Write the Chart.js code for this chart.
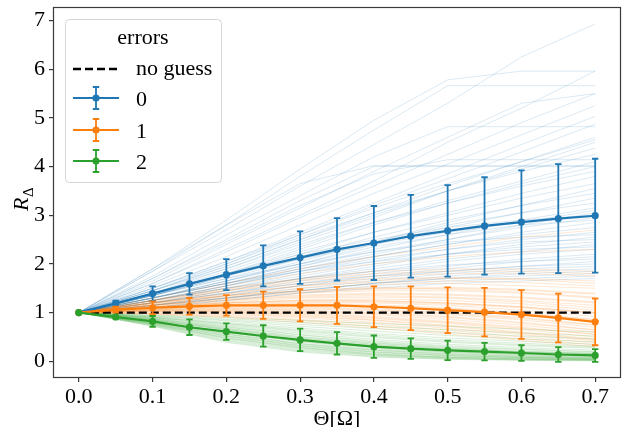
<!DOCTYPE html>
<html>
<head>
<meta charset="utf-8">
<script src="https://cdn.jsdelivr.net/npm/chart.js@4.4.1/dist/chart.umd.min.js"></script>
<style>
  html, body { margin: 0; padding: 0; background: #fff; }
  #wrap { width: 625px; height: 427px; }
</style>
</head>
<body>
<div id="wrap"><canvas id="c" width="625" height="427"></canvas></div>
<script>
// ---------------- DATA ----------------
const thetaMean = [0, 0.05, 0.1, 0.15, 0.2, 0.25, 0.3, 0.35, 0.4, 0.45, 0.5, 0.55, 0.6, 0.65, 0.7];
const thetaRun = [0, 0.1, 0.2, 0.3, 0.4, 0.5, 0.6, 0.7];
const xTicks = [0, 0.1, 0.2, 0.3, 0.4, 0.5, 0.6, 0.7];
const yTicks = [0, 1, 2, 3, 4, 5, 6, 7];
const seriesLabels = ["0", "1", "2"];
const legendTitle = "errors";
const noGuessLabel = "no guess";
const noGuessValue = [1, 1];
const noGuessTheta = [0, 0.7];

const blueMean = [1, 1.19, 1.39, 1.59, 1.78, 1.96, 2.13, 2.30, 2.43, 2.57, 2.68, 2.78, 2.86, 2.93, 2.99];
const blueStd  = [0, 0.055, 0.15, 0.22, 0.32, 0.42, 0.54, 0.64, 0.76, 0.85, 0.94, 1.0, 1.06, 1.12, 1.17];
const orangeMean = [1, 1.06, 1.10, 1.13, 1.15, 1.15, 1.15, 1.15, 1.12, 1.09, 1.05, 1.01, 0.96, 0.89, 0.81];
const orangeStd  = [0, 0.06, 0.13, 0.17, 0.21, 0.28, 0.33, 0.38, 0.42, 0.45, 0.47, 0.5, 0.5, 0.5, 0.48];
const greenMean = [1, 0.91, 0.82, 0.70, 0.61, 0.52, 0.44, 0.37, 0.30, 0.26, 0.225, 0.20, 0.17, 0.14, 0.12];
const greenStd  = [0, 0.03, 0.11, 0.16, 0.17, 0.22, 0.23, 0.23, 0.23, 0.21, 0.2, 0.18, 0.16, 0.15, 0.13];

const blueRuns = [
  [1,1.85,2.7,3.6,4.45,5.3,6.25,6.93],
  [1,1.9,2.9,3.95,4.95,5.78,5.96,5.96],
  [1,1.85,2.8,3.8,4.75,5.66,5.66,5.66],
  [1,1.6,2.3,3.0,3.7,4.5,5.2,5.96],
  [1,1.6,2.25,2.95,3.6,4.25,4.9,5.5],
  [1,1.55,2.15,2.8,3.45,4.05,4.65,5.25],
  [1,1.75,2.6,3.4,4.2,4.82,4.82,4.82],
  [1,1.5,2.05,2.65,3.25,3.85,4.45,5.03],
  [1,1.9,2.8,3.65,4.02,4.02,4.02,4.02],
  [1,1.45,2.0,2.6,3.2,3.75,4.3,4.87],
  [1,1.45,1.95,2.5,3.05,3.6,4.1,4.6],
  [1,1.5,2.05,2.6,3.15,3.65,4.1,4.55],
  [1,1.4,1.9,2.45,2.95,3.5,4.0,4.5],
  [1,1.45,1.95,2.5,3.0,3.5,3.95,4.38],
  [1,1.7,2.45,3.2,3.85,4.14,4.14,4.14],
  [1,1.4,1.85,2.35,2.85,3.3,3.7,4.1],
  [1,1.35,1.8,2.3,2.8,3.25,3.65,4.0],
  [1,1.35,1.75,2.2,2.65,3.05,3.45,3.8],
  [1,1.4,1.8,2.25,2.65,3.0,3.35,3.65],
  [1,1.3,1.65,2.05,2.45,2.85,3.2,3.55],
  [1,1.35,1.75,2.15,2.55,2.9,3.2,3.45],
  [1,1.3,1.65,2.0,2.4,2.75,3.05,3.35],
  [1,1.35,1.7,2.1,2.45,2.8,3.05,3.25],
  [1,1.3,1.6,1.95,2.3,2.6,2.9,3.15],
  [1,1.25,1.55,1.9,2.2,2.5,2.8,3.05],
  [1,1.3,1.6,1.95,2.25,2.5,2.75,2.95],
  [1,1.25,1.55,1.85,2.15,2.4,2.65,2.85],
  [1,1.3,1.6,1.9,2.15,2.4,2.6,2.75],
  [1,1.25,1.5,1.8,2.05,2.3,2.5,2.65],
  [1,1.2,1.45,1.7,1.95,2.2,2.4,2.55],
  [1,1.25,1.5,1.75,2.0,2.2,2.35,2.45],
  [1,1.2,1.45,1.7,1.9,2.1,2.25,2.4],
  [1,1.2,1.4,1.65,1.85,2.05,2.2,2.3],
  [1,1.2,1.4,1.6,1.8,1.95,2.1,2.2],
  [1,1.15,1.35,1.55,1.75,1.9,2.05,2.15],
  [1,1.15,1.35,1.55,1.7,1.85,1.95,2.05],
  [1,1.2,1.4,1.6,1.75,1.85,1.95,2.0],
  [1,1.15,1.3,1.5,1.65,1.8,1.9,1.95],
  [1,1.15,1.3,1.45,1.6,1.75,1.85,1.9],
  [1,1.1,1.3,1.45,1.6,1.7,1.8,1.85],
  [1,1.15,1.3,1.45,1.6,1.7,1.75,1.8],
  [1,1.1,1.25,1.4,1.55,1.65,1.7,1.75],
  [1,1.1,1.25,1.4,1.5,1.6,1.65,1.7],
  [1,1.4,1.8,2.2,2.5,2.75,2.9,3.0],
  [1,1.35,1.7,2.0,2.25,2.45,2.55,2.6],
  [1,1.45,1.9,2.4,2.85,3.25,3.6,3.9],
  [1,1.5,2.0,2.55,3.05,3.5,3.9,4.25],
  [1,1.3,1.6,1.85,2.05,2.2,2.3,2.35],
  [1,1.25,1.5,1.7,1.85,1.98,2.05,2.1],
  [1,1.65,2.4,3.15,3.9,4.6,5.3,5.5],
  [1,1.7,2.5,3.3,4.0,4.0,4.0,4.0],
  [1,1.35,1.75,2.1,2.4,2.65,2.85,3.1],
  [1,1.3,1.65,2.0,2.35,2.6,2.8,2.9],
  [1,1.25,1.55,1.85,2.1,2.3,2.45,2.5]
];

const orangeRuns = [
  [1,1.25,1.5,1.7,1.85,1.9,1.9,1.85],
  [1,1.2,1.45,1.65,1.75,1.8,1.8,1.75],
  [1,1.25,1.45,1.6,1.7,1.72,1.7,1.65],
  [1,1.2,1.4,1.55,1.62,1.65,1.62,1.55],
  [1,1.2,1.35,1.5,1.58,1.6,1.55,1.5],
  [1,1.15,1.35,1.45,1.52,1.52,1.48,1.4],
  [1,1.2,1.35,1.45,1.5,1.48,1.42,1.32],
  [1,1.15,1.3,1.4,1.45,1.45,1.4,1.3],
  [1,1.15,1.28,1.36,1.4,1.38,1.32,1.22],
  [1,1.15,1.25,1.32,1.35,1.32,1.25,1.15],
  [1,1.12,1.22,1.3,1.32,1.3,1.22,1.1],
  [1,1.12,1.2,1.26,1.28,1.25,1.18,1.05],
  [1,1.1,1.18,1.22,1.22,1.18,1.1,0.98],
  [1,1.1,1.16,1.2,1.2,1.15,1.05,0.92],
  [1,1.1,1.15,1.18,1.16,1.1,1.0,0.86],
  [1,1.08,1.12,1.14,1.12,1.05,0.95,0.8],
  [1,1.08,1.12,1.12,1.08,1.0,0.9,0.75],
  [1,1.06,1.08,1.08,1.04,0.96,0.85,0.7],
  [1,1.06,1.08,1.06,1.0,0.92,0.8,0.65],
  [1,1.05,1.05,1.02,0.96,0.86,0.74,0.6],
  [1,1.04,1.04,1.0,0.92,0.82,0.7,0.55],
  [1,1.03,1.02,0.96,0.88,0.78,0.65,0.5],
  [1,1.02,1.0,0.94,0.85,0.74,0.6,0.46],
  [1,1.0,0.96,0.9,0.8,0.68,0.55,0.42],
  [1,0.98,0.94,0.86,0.76,0.64,0.5,0.38],
  [1,0.98,0.92,0.84,0.72,0.6,0.46,0.34],
  [1,0.97,0.9,0.8,0.68,0.56,0.43,0.3],
  [1,1.18,1.32,1.42,1.48,1.5,1.46,1.38],
  [1,1.1,1.2,1.25,1.25,1.2,1.12,1.0],
  [1,1.14,1.26,1.34,1.38,1.36,1.3,1.2],
  [1,1.22,1.48,1.68,1.8,1.85,1.85,1.8],
  [1,1.07,1.1,1.1,1.06,0.98,0.88,0.74],
  [1,1.05,1.06,1.04,0.98,0.9,0.78,0.64],
  [1,1.12,1.2,1.24,1.24,1.2,1.12,1.0],
  [1,1.25,1.55,1.8,2.0,2.15,2.25,2.3],
  [1,1.3,1.6,1.9,2.15,2.35,2.55,2.7],
  [1,1.02,0.98,0.92,0.84,0.72,0.58,0.44],
  [1,1.08,1.14,1.16,1.14,1.08,0.98,0.85],
  [1,1.18,1.38,1.55,1.66,1.7,1.68,1.6],
  [1,1.04,1.02,0.98,0.9,0.8,0.68,0.56]
];

const greenRuns = [
  [1,0.95,0.9,0.84,0.78,0.72,0.66,0.6],
  [1,0.94,0.87,0.8,0.72,0.65,0.58,0.52],
  [1,0.93,0.85,0.76,0.67,0.59,0.52,0.46],
  [1,0.92,0.83,0.72,0.62,0.53,0.46,0.4],
  [1,0.91,0.8,0.68,0.57,0.48,0.41,0.35],
  [1,0.9,0.78,0.65,0.54,0.44,0.37,0.31],
  [1,0.89,0.75,0.61,0.49,0.39,0.32,0.27],
  [1,0.88,0.73,0.58,0.45,0.35,0.28,0.23],
  [1,0.87,0.71,0.55,0.42,0.32,0.25,0.2],
  [1,0.86,0.68,0.51,0.38,0.28,0.21,0.17],
  [1,0.85,0.66,0.48,0.35,0.25,0.19,0.15],
  [1,0.84,0.64,0.45,0.32,0.23,0.17,0.13],
  [1,0.83,0.61,0.42,0.29,0.2,0.14,0.11],
  [1,0.82,0.59,0.4,0.26,0.18,0.12,0.09],
  [1,0.81,0.57,0.37,0.24,0.16,0.11,0.08],
  [1,0.8,0.55,0.35,0.22,0.14,0.09,0.07],
  [1,0.79,0.53,0.33,0.2,0.12,0.08,0.06],
  [1,0.78,0.51,0.31,0.18,0.11,0.07,0.05],
  [1,0.77,0.49,0.29,0.16,0.09,0.06,0.04],
  [1,0.76,0.47,0.27,0.14,0.08,0.05,0.03],
  [1,0.75,0.45,0.25,0.13,0.07,0.04,0.03],
  [1,0.74,0.43,0.23,0.12,0.06,0.03,0.02],
  [1,0.73,0.41,0.21,0.1,0.05,0.03,0.02],
  [1,0.72,0.39,0.19,0.09,0.04,0.02,0.01],
  [1,0.84,0.65,0.47,0.34,0.25,0.19,0.15],
  [1,0.87,0.7,0.54,0.4,0.3,0.24,0.19],
  [1,0.82,0.6,0.41,0.28,0.19,0.14,0.1],
  [1,0.8,0.56,0.36,0.23,0.15,0.1,0.07],
  [1,0.78,0.52,0.32,0.19,0.12,0.08,0.05],
  [1,0.76,0.48,0.28,0.15,0.08,0.05,0.04],
  [1,0.85,0.67,0.5,0.37,0.27,0.2,0.16],
  [1,0.9,0.77,0.63,0.51,0.41,0.34,0.29]
];

// ---------------- STYLE ----------------
const C_BLUE = "#1f77b4", C_ORANGE = "#ff7f0e", C_GREEN = "#2ca02c";
const FONT_FAMILY = '"Liberation Serif", "Times New Roman", serif';
const FONT_SIZE = 22;

function pts(xs, ys) { return xs.map((x, i) => ({ x: x, y: ys[i] })); }

const datasets = [];
function addRuns(runs, rgba, order) {
  runs.forEach(r => datasets.push({
    data: pts(thetaRun, r), borderColor: rgba, borderWidth: 1,
    pointRadius: 0, fill: false, tension: 0, order: order, isRun: true
  }));
}
addRuns(blueRuns, "rgba(31,119,180,0.16)", 100);
addRuns(orangeRuns, "rgba(255,127,14,0.19)", 90);
addRuns(greenRuns, "rgba(44,160,44,0.18)", 80);

datasets.push({
  data: pts(noGuessTheta, noGuessValue), borderColor: "#000", borderWidth: 2.3,
  borderDash: [8, 4], pointRadius: 0, fill: false, order: 4
});
function addMean(mean, std, color, order) {
  datasets.push({
    data: pts(thetaMean, mean), errors: std, borderColor: color, backgroundColor: color,
    borderWidth: 2.2, pointRadius: 3.6, pointBorderWidth: 0, pointBackgroundColor: color,
    fill: false, tension: 0, order: order
  });
}
addMean(blueMean, blueStd, C_BLUE, 3);
addMean(orangeMean, orangeStd, C_ORANGE, 2);
addMean(greenMean, greenStd, C_GREEN, 1);

// ---------------- PLUGINS ----------------
const errorBars = {
  id: "errorBars",
  beforeDatasetDraw(chart, args) {
    const ds = chart.data.datasets[args.index];
    if (!ds.errors) return;
    const ctx = chart.ctx, xs = chart.scales.x, ys = chart.scales.y;
    ctx.save();
    ctx.strokeStyle = ds.borderColor;
    ctx.lineWidth = 1.8;
    ds.data.forEach((p, i) => {
      const e = ds.errors[i];
      if (!e) return;
      const px = xs.getPixelForValue(p.x);
      const y1 = ys.getPixelForValue(p.y - e), y2 = ys.getPixelForValue(p.y + e);
      ctx.beginPath();
      ctx.moveTo(px, y1); ctx.lineTo(px, y2);
      ctx.moveTo(px - 3.2, y1); ctx.lineTo(px + 3.2, y1);
      ctx.moveTo(px - 3.2, y2); ctx.lineTo(px + 3.2, y2);
      ctx.stroke();
    });
    ctx.restore();
  }
};

const frameAndLegend = {
  id: "frameAndLegend",
  afterDraw(chart) {
    const ctx = chart.ctx, a = chart.chartArea;
    ctx.save();
    // frame (spines)
    ctx.strokeStyle = "#3a3a3a";
    ctx.lineWidth = 1.2;
    ctx.strokeRect(Math.round(a.left) + 0.5, Math.round(a.top) + 0.5,
                   Math.round(a.right - a.left) - 1, Math.round(a.bottom - a.top) - 1);

    // legend box
    const bx = 65.5, by = 19.5, bw = 156, bh = 163, r = 4;
    ctx.beginPath();
    ctx.moveTo(bx + r, by);
    ctx.lineTo(bx + bw - r, by); ctx.quadraticCurveTo(bx + bw, by, bx + bw, by + r);
    ctx.lineTo(bx + bw, by + bh - r); ctx.quadraticCurveTo(bx + bw, by + bh, bx + bw - r, by + bh);
    ctx.lineTo(bx + r, by + bh); ctx.quadraticCurveTo(bx, by + bh, bx, by + bh - r);
    ctx.lineTo(bx, by + r); ctx.quadraticCurveTo(bx, by, bx + r, by);
    ctx.closePath();
    ctx.fillStyle = "rgba(255,255,255,0.8)";
    ctx.fill();
    ctx.strokeStyle = "rgba(204,204,204,0.8)";
    ctx.lineWidth = 1;
    ctx.stroke();

    ctx.fillStyle = "#000";
    ctx.font = FONT_SIZE + "px " + FONT_FAMILY;
    ctx.textBaseline = "alphabetic";
    ctx.textAlign = "center";
    ctx.fillText(legendTitle, 143, 44);
    ctx.textAlign = "left";
    ctx.fillText(noGuessLabel, 136, 75);

    // no guess handle
    ctx.strokeStyle = "#000"; ctx.lineWidth = 2.3; ctx.setLineDash([8, 4]);
    ctx.beginPath(); ctx.moveTo(73, 69); ctx.lineTo(119, 69); ctx.stroke();
    ctx.setLineDash([]);

    const cols = [C_BLUE, C_ORANGE, C_GREEN];
    const rowY = [98, 130, 161];
    seriesLabels.forEach((lab, i) => {
      const y = rowY[i], c = cols[i];
      ctx.strokeStyle = c; ctx.fillStyle = c;
      ctx.lineWidth = 2.2;
      ctx.beginPath(); ctx.moveTo(73, y); ctx.lineTo(119, y); ctx.stroke();
      ctx.lineWidth = 1.8;
      ctx.beginPath();
      ctx.moveTo(96, y - 11); ctx.lineTo(96, y + 11);
      ctx.moveTo(92.8, y - 11); ctx.lineTo(99.2, y - 11);
      ctx.moveTo(92.8, y + 11); ctx.lineTo(99.2, y + 11);
      ctx.stroke();
      ctx.beginPath(); ctx.arc(96, y, 3.6, 0, Math.PI * 2); ctx.fill();
      ctx.fillStyle = "#000";
      ctx.fillText(lab, 136, y + 8.3);
    });

    // axis titles
    ctx.fillStyle = "#000";
    ctx.textAlign = "center";
    ctx.font = FONT_SIZE + "px " + FONT_FAMILY;
    ctx.fillText("\u0398[\u03A9]", (a.left + a.right) / 2, 424.5);

    ctx.save();
    ctx.translate(28, 211);
    ctx.rotate(-Math.PI / 2);
    ctx.textAlign = "left";
    ctx.font = "italic " + FONT_SIZE + "px " + FONT_FAMILY;
    ctx.fillText("R", 0, 0);
    const w = ctx.measureText("R").width;
    ctx.font = "15px " + FONT_FAMILY;
    ctx.fillText("\u0394", w + 0.5, 4.5);
    ctx.restore();

    ctx.restore();
  }
};

// ---------------- CHART ----------------
const tickFont = { family: FONT_FAMILY, size: FONT_SIZE };
function zeroPad(s) { s.paddingTop = 0; s.paddingBottom = 0; s.paddingLeft = 0; s.paddingRight = 0; }
new Chart(document.getElementById("c"), {
  type: "line",
  data: { datasets: datasets },
  plugins: [errorBars, frameAndLegend],
  options: {
    responsive: false,
    animation: false,
    devicePixelRatio: 1,
    layout: { padding: { top: 7, right: 1, left: 0, bottom: 0 } },
    plugins: { legend: { display: false }, tooltip: { enabled: false } },
    scales: {
      x: {
        type: "linear", min: -0.035, max: 0.735,
        afterBuildTicks: s => { s.ticks = xTicks.map(v => ({ value: v })); },
        afterFit: s => { s.height = 49; zeroPad(s); },
        ticks: { font: tickFont, color: "#000", padding: 2, maxRotation: 0, autoSkip: false,
                 callback: v => Number(v).toFixed(1) },
        grid: { drawOnChartArea: false, drawTicks: true, tickLength: 4, color: "#3a3a3a", lineWidth: 1.2 },
        border: { display: false }
      },
      y: {
        type: "linear", min: -0.343, max: 7.277,
        afterBuildTicks: s => { s.ticks = yTicks.map(v => ({ value: v })); },
        afterFit: s => { s.width = 53; zeroPad(s); },
        ticks: { font: tickFont, color: "#000", padding: 4, autoSkip: false,
                 callback: v => String(v) },
        grid: { drawOnChartArea: false, drawTicks: true, tickLength: 4, color: "#3a3a3a", lineWidth: 1.2 },
        border: { display: false }
      }
    }
  }
});
</script>
</body>
</html>
